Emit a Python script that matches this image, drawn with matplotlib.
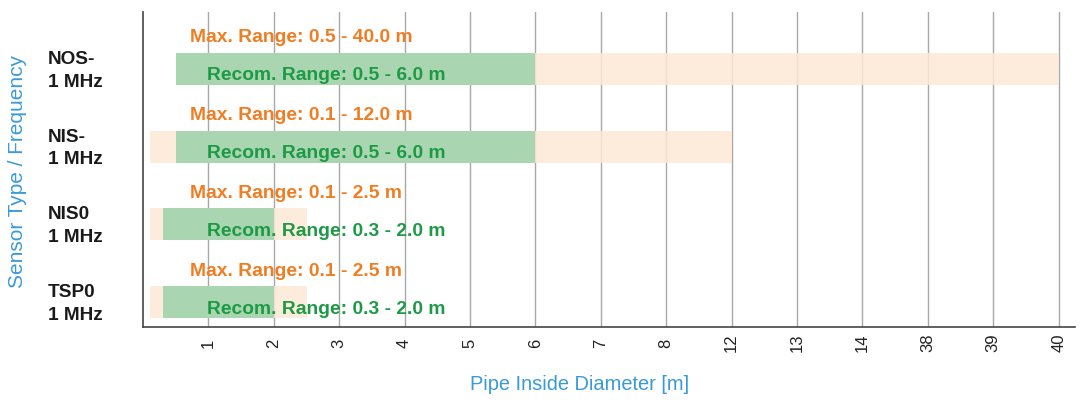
import numpy as np
import matplotlib
matplotlib.use("Agg")
import matplotlib.pyplot as plt

# ---------------- data ----------------
sensors = ["NOS-\n1 MHz", "NIS-\n1 MHz", "NIS0\n1 MHz", "TSP0\n1 MHz"]
max_start = [0.5, 0.1, 0.1, 0.1]
max_end = [40.0, 12.0, 2.5, 2.5]
rec_start = [0.5, 0.5, 0.3, 0.3]
rec_end = [6.0, 6.0, 2.0, 2.0]
tick_values = [1, 2, 3, 4, 5, 6, 7, 8, 12, 13, 14, 38, 39, 40]
tick_labels = ["1", "2", "3", "4", "5", "6", "7", "8", "12", "13", "14", "38", "39", "40"]

plt.rcParams['font.family'] = ['Liberation Sans', 'DejaVu Sans']

# categorical-like scale: each tick value is evenly spaced
scale_vals = np.array([0.0] + tick_values + [80.0], dtype=float)
scale_pos = np.arange(len(scale_vals), dtype=float)
scale_pos[-1] = len(tick_values) + 1


def fwd(v):
    return np.interp(v, scale_vals, scale_pos)


def inv(p):
    return np.interp(p, scale_pos, scale_vals)


fig = plt.figure(figsize=(10.83, 4.03), dpi=100)
ax = fig.add_axes([143 / 1083, 1 - 327 / 403, (1075 - 143) / 1083, (327 - 12) / 403])
ax.set_xscale('function', functions=(fwd, inv))
ax.set_xlim(0, inv(14.25))

rows = np.arange(len(sensors))
ax.set_ylim(3.32, -0.733)

orange_bar = '#fde8d6'
green_bar = '#a9d5b1'
orange_txt = '#f07d22'
green_txt = '#1d9a45'
blue_txt = '#3a9ad8'

bar_h = 0.41
ax.barh(rows, np.array(max_end) - np.array(max_start), left=max_start,
        height=bar_h, color=orange_bar, alpha=0.85, zorder=2)
ax.barh(rows, np.array(rec_end) - np.array(rec_start), left=rec_start,
        height=bar_h, color=green_bar, zorder=3)

for i in rows:
    ax.text(0.72, i - 0.40, f"Max. Range: {max_start[i]} - {max_end[i]} m",
            color=orange_txt, fontsize=13.9, fontweight='bold', va='center', ha='left', zorder=5)
    ax.text(0.98, i + 0.09, f"Recom. Range: {rec_start[i]} - {rec_end[i]} m",
            color=green_txt, fontsize=13.9, fontweight='bold', va='center', ha='left', zorder=5)

# grid
for v in tick_values:
    ax.axvline(v, color='#a8a8a8', lw=1.0, zorder=1)

ax.set_xticks(tick_values)
ax.set_xticklabels(tick_labels, rotation=90, fontsize=12, color='#222222', va='center')
ax.tick_params(axis='x', length=0, pad=11.5)
ax.xaxis.set_minor_locator(matplotlib.ticker.NullLocator())

ax.set_yticks(rows - 0.04)
ax.set_yticklabels(sensors, fontsize=13.7, fontweight='bold', color='#1a1a1a', linespacing=1.45)
for t in ax.get_yticklabels():
    t.set_horizontalalignment('left')
ax.tick_params(axis='y', length=0, pad=68.4)

for s in ['top', 'right']:
    ax.spines[s].set_visible(False)
ax.spines['left'].set_color('#444444')
ax.spines['bottom'].set_color('#444444')
ax.spines['left'].set_linewidth(1.2)
ax.spines['bottom'].set_linewidth(1.2)

fig.text(580 / 1083, 1 - 385 / 403, "Pipe Inside Diameter [m]", color=blue_txt,
         fontsize=14.4, ha='center', va='center')
fig.text(18 / 1083, 1 - 172 / 403, "Sensor Type / Frequency", color=blue_txt,
         fontsize=15, ha='center', va='center', rotation=90)

fig.savefig("out.png", dpi=100, facecolor='white')
